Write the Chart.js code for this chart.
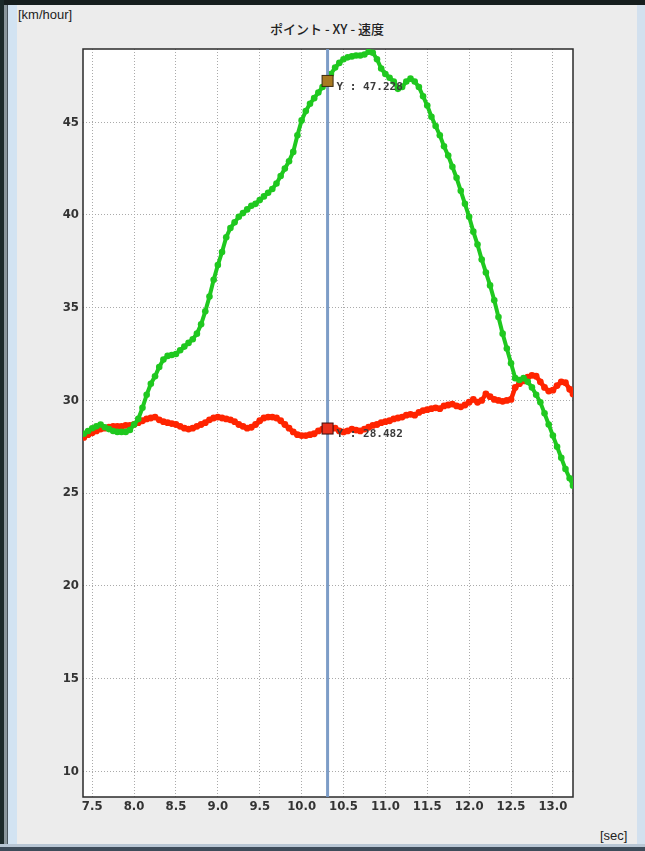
<!DOCTYPE html>
<html><head><meta charset="utf-8">
<script src="https://cdn.jsdelivr.net/npm/chart.js@4/dist/chart.umd.min.js"></script>
<style>
html,body{margin:0;padding:0;width:645px;height:851px;overflow:hidden;background:#ececec;}
.edge{position:absolute;}
#wrap{position:absolute;left:0;top:0;width:645px;height:851px;}
.lbl{position:absolute;font-family:'Liberation Sans',Arial,sans-serif;font-size:13px;color:#222;white-space:nowrap;}
</style></head>
<body>
<div class="edge" style="left:0;top:0;width:645px;height:5px;background:#161e1e"></div>
<div class="edge" style="left:0;top:0;width:4px;height:851px;background:#1c2a2a"></div>
<div class="edge" style="left:4px;top:5px;width:3px;height:846px;background:#8a969c"></div>
<div class="edge" style="left:7px;top:5px;width:1px;height:846px;background:#4a565e"></div>
<div class="edge" style="left:8px;top:5px;width:9px;height:846px;background:#d2e3f2"></div>
<div class="edge" style="left:637px;top:5px;width:8px;height:846px;background:#d2e0ee"></div>
<div class="edge" style="left:0;top:844px;width:645px;height:3px;background:#b8c6d4"></div>
<div class="edge" style="left:0;top:847px;width:645px;height:4px;background:#3e4c5a"></div>
<div class="lbl" style="left:18px;top:7px;">[km/hour]</div>
<div class="lbl" style="left:0;width:654px;top:19px;text-align:center;font-family:'Noto Sans CJK JP',sans-serif;font-size:13px;font-weight:500;">ポイント - XY - 速度</div>
<div class="lbl" style="left:600px;top:828px;">[sec]</div>
<div id="wrap"><canvas id="c" width="645" height="851"></canvas></div>
<script>
// ---- data ----
const times = [
7.40,7.45,7.50,7.55,7.60,7.65,7.70,7.75,7.80,7.85,
7.90,7.95,8.00,8.05,8.10,8.15,8.20,8.25,8.30,8.35,
8.40,8.45,8.50,8.55,8.60,8.65,8.70,8.75,8.80,8.85,
8.90,8.95,9.00,9.05,9.10,9.15,9.20,9.25,9.30,9.35,
9.40,9.45,9.50,9.55,9.60,9.65,9.70,9.75,9.80,9.85,
9.90,9.95,10.00,10.05,10.10,10.15,10.20,10.25,10.30,10.35,
10.40,10.45,10.50,10.55,10.60,10.65,10.70,10.75,10.80,10.85,
10.90,10.95,11.00,11.05,11.10,11.15,11.20,11.25,11.30,11.35,
11.40,11.45,11.50,11.55,11.60,11.65,11.70,11.75,11.80,11.85,
11.90,11.95,12.00,12.05,12.10,12.15,12.20,12.25,12.30,12.35,
12.40,12.45,12.50,12.55,12.60,12.65,12.70,12.75,12.80,12.85,
12.90,12.95,13.00,13.05,13.10,13.15,13.20,13.24];

const greenSpeed = [
28.2,28.35,28.5,28.6,28.7,28.55,28.45,28.35,28.3,28.3,
28.3,28.4,28.7,29.0,29.6,30.3,30.9,31.3,31.8,32.2,
32.4,32.45,32.5,32.7,32.9,33.1,33.3,33.6,34.1,34.8,
35.6,36.5,37.3,38.0,38.8,39.3,39.6,39.9,40.1,40.3,
40.5,40.6,40.8,41.0,41.2,41.4,41.7,42.1,42.5,42.9,
43.4,44.3,45.1,45.6,46.0,46.3,46.6,46.9,47.2,47.6,
47.95,48.2,48.4,48.5,48.55,48.6,48.6,48.65,48.8,48.75,
48.4,47.9,47.6,47.4,47.2,46.8,46.9,47.2,47.35,47.2,
46.9,46.4,45.9,45.3,44.8,44.3,43.7,43.2,42.6,42.0,
41.3,40.6,39.9,39.1,38.4,37.6,36.9,36.2,35.4,34.5,
33.6,32.8,32.0,31.2,31.1,31.2,31.0,30.7,30.3,29.9,
29.3,28.7,28.1,27.5,26.9,26.3,25.8,25.4];

const redSpeed = [
28.0,28.15,28.25,28.35,28.45,28.5,28.55,28.6,28.6,28.6,
28.65,28.65,28.7,28.8,28.9,29.0,29.05,29.1,28.95,28.85,
28.8,28.75,28.7,28.6,28.5,28.45,28.5,28.6,28.7,28.8,
28.95,29.05,29.1,29.05,29.0,28.95,28.85,28.7,28.6,28.5,
28.55,28.7,28.9,29.05,29.1,29.1,29.05,28.9,28.7,28.5,
28.3,28.15,28.1,28.1,28.15,28.2,28.35,28.45,28.48,28.45,
28.5,28.35,28.3,28.35,28.45,28.4,28.35,28.45,28.55,28.65,
28.7,28.8,28.85,28.9,29.0,29.05,29.1,29.2,29.25,29.2,
29.35,29.45,29.5,29.55,29.6,29.55,29.7,29.75,29.8,29.7,
29.65,29.75,29.9,30.05,29.9,30.0,30.35,30.2,30.05,30.0,
29.95,30.0,30.05,30.7,30.9,31.05,31.25,31.35,31.3,31.0,
30.7,30.5,30.55,30.8,31.0,30.95,30.6,30.35];

const xTicks = [7.5,8.0,8.5,9.0,9.5,10.0,10.5,11.0,11.5,12.0,12.5,13.0];
const yTicks = [10,15,20,25,30,35,40,45];
const xRange = [7.39, 13.24];
const yRange = [8.61, 48.95];
const cursorX = 10.31;
const cursorGreen = 47.228;
const cursorRed = 28.482;

const tickFont = {family:"'Liberation Sans Narrow','DejaVu Sans Condensed','Liberation Sans',sans-serif", size:13, weight:'bold'};

const cursorPlugin = {
  id:'cursor',
  beforeDraw(chart){
    const {ctx, chartArea:a} = chart;
    ctx.save();
    ctx.fillStyle = '#ffffff';
    ctx.fillRect(a.left, a.top, a.right - a.left, a.bottom - a.top);
    ctx.restore();
  },
  beforeDatasetsDraw(chart){
    const {ctx, chartArea:a} = chart;
    ctx.save();
    ctx.strokeStyle = '#2a2a2a';
    ctx.lineWidth = 1.5;
    ctx.strokeRect(a.left, a.top, a.right - a.left, a.bottom - a.top);
    ctx.restore();
  },
  afterDatasetsDraw(chart){
    const {ctx, chartArea:a, scales} = chart;
    const px = scales.x.getPixelForValue(cursorX);
    ctx.save();
    ctx.strokeStyle = 'rgba(118,152,196,0.95)';
    ctx.lineWidth = 3;
    ctx.beginPath(); ctx.moveTo(px, a.top); ctx.lineTo(px, a.bottom); ctx.stroke();
    const marks = [[cursorGreen,'#a87a22','#3a2a10'],[cursorRed,'#e8301c','#3a0c0c']];
    ctx.font = "bold 11px 'DejaVu Sans Mono', monospace";
    ctx.textBaseline = 'middle';
    for (const [v, fill, stroke] of marks){
      const py = scales.y.getPixelForValue(v);
      ctx.fillStyle = fill; ctx.strokeStyle = stroke; ctx.lineWidth = 1;
      ctx.fillRect(px-5.5, py-5.5, 11, 11);
      ctx.strokeRect(px-5.5, py-5.5, 11, 11);
      ctx.fillStyle = '#3a3a3a';
      ctx.fillText('Y : ' + v.toFixed(3), px + 9, py + 6);
    }
    ctx.restore();
  }
};

new Chart(document.getElementById('c'), {
  type:'line',
  data:{
    datasets:[
      {label:'green', data: times.map((t,i)=>({x:t, y:greenSpeed[i]})),
       borderColor:'#1fc81f', backgroundColor:'#1fc81f', borderWidth:4,
       pointRadius:3.3, pointBorderWidth:0, pointBackgroundColor:'#1fc81f', tension:0, order:1},
      {label:'red', data: times.map((t,i)=>({x:t, y:redSpeed[i]})),
       borderColor:'#ff2400', backgroundColor:'#ff2400', borderWidth:4.5,
       pointRadius:3.4, pointBorderWidth:0, pointBackgroundColor:'#ff2400', tension:0, order:2}
    ]
  },
  options:{
    responsive:false, animation:false,
    layout:{padding:{left:10, right:72, top:49, bottom:33}},
    plugins:{legend:{display:false}, title:{display:false}, tooltip:{enabled:false}},
    scales:{
      x:{type:'linear', min:xRange[0], max:xRange[1],
        afterBuildTicks(s){ s.ticks = xTicks.map(v=>({value:v})); },
        afterFit(s){ s.height = 21; },
        ticks:{callback:v=>Number(v).toFixed(1), padding:2, maxRotation:0, autoSkip:false, font:tickFont, color:'#333'},
        grid:{color:'#aaaaaa', lineWidth:1, drawTicks:false},
        border:{display:false, dash:[1,2]}},
      y:{type:'linear', min:yRange[0], max:yRange[1],
        afterBuildTicks(s){ s.ticks = yTicks.map(v=>({value:v})); },
        afterFit(s){ s.width = 73; },
        ticks:{padding:4, font:tickFont, color:'#333'},
        grid:{color:'#aaaaaa', lineWidth:1, drawTicks:false},
        border:{display:false, dash:[1,2]}}
    }
  },
  plugins:[cursorPlugin]
});
</script>
</body></html>
